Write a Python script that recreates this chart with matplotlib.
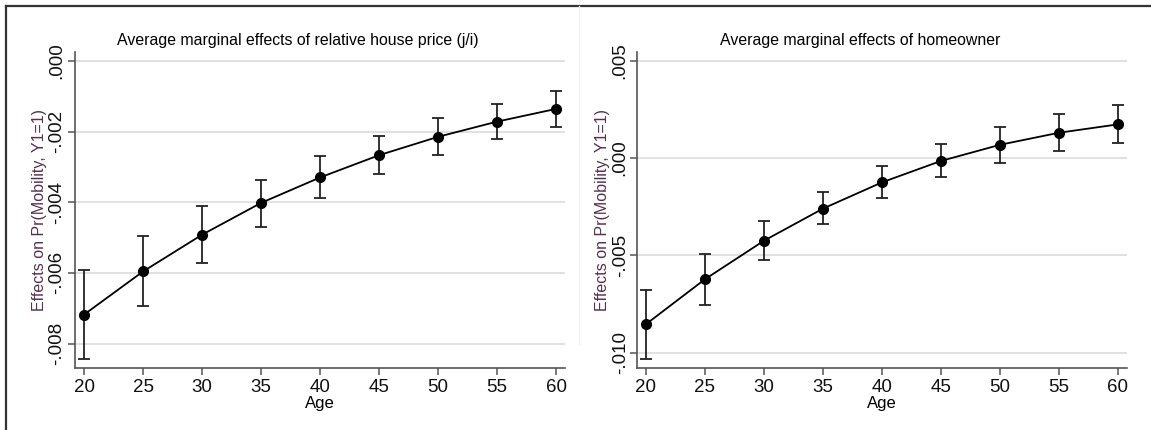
import numpy as np
import matplotlib.pyplot as plt
from matplotlib.lines import Line2D

plt.rcParams['font.family'] = ['Liberation Sans', 'DejaVu Sans']

ages = [20, 25, 30, 35, 40, 45, 50, 55, 60]

# relative house price (j/i)
price_est = [-0.00718, -0.00596, -0.00492, -0.00402, -0.00330, -0.00267, -0.00215, -0.00172, -0.00136]
price_hi = [-0.00591, -0.00496, -0.00412, -0.00336, -0.00270, -0.00213, -0.00163, -0.00121, -0.00084]
price_lo = [-0.00844, -0.00694, -0.00571, -0.00470, -0.00388, -0.00319, -0.00266, -0.00221, -0.00186]

# homeowner
home_est = [-0.00854, -0.00623, -0.00425, -0.00260, -0.00125, -0.00015, 0.00068, 0.00130, 0.00173]
home_hi = [-0.00678, -0.00491, -0.00325, -0.00176, -0.00043, 0.00070, 0.00161, 0.00226, 0.00271]
home_lo = [-0.01034, -0.00753, -0.00524, -0.00341, -0.00204, -0.00099, -0.00024, 0.00036, 0.00079]

titles = ['Average marginal effects of relative house price (j/i)',
          'Average marginal effects of homeowner']
ylab = 'Effects on Pr(Mobility, Y1=1)'

left_ticks = [0.0, -0.002, -0.004, -0.006, -0.008]
left_labels = ['.000', '-.002', '-.004', '-.006', '-.008']
right_ticks = [0.005, 0.0, -0.005, -0.010]
right_labels = ['.005', '.000', '-.005', '-.010']

fig = plt.figure(figsize=(11.51, 4.30), dpi=100)
ax1 = fig.add_axes([0.0652, 0.1442, 0.4257, 0.7349])
ax2 = fig.add_axes([0.5534, 0.1442, 0.4257, 0.7349])

panels = [
    (ax1, price_est, price_lo, price_hi, left_ticks, left_labels, (-0.00869, 0.00025), 1, 2),
    (ax2, home_est, home_lo, home_hi, right_ticks, right_labels, (-0.01079, 0.00545), 1, 1),
]

for i, (ax, est, lo, hi, tks, tls, ylim, lp, tp) in enumerate(panels):
    est = np.array(est)
    yerr = [est - np.array(lo), np.array(hi) - est]
    ax.errorbar(ages, est, yerr=yerr, fmt='o-', color='black', ms=7, lw=1.3,
                elinewidth=1.3, capsize=4, capthick=1.3, ecolor='#222222', zorder=3)
    ax.set_xlim(19.24, 60.76)
    ax.set_ylim(*ylim)
    ax.set_xticks(ages)
    ax.set_yticks(tks)
    ax.set_yticklabels(tls, rotation=90, va='center')
    for t in tks:
        ax.axhline(t, color='#dcdcdc', lw=1.2, zorder=1)
    for s in ['top', 'right']:
        ax.spines[s].set_visible(False)
    for s in ['left', 'bottom']:
        ax.spines[s].set_color('#555555')
        ax.spines[s].set_linewidth(1.2)
    ax.tick_params(direction='out', length=5, width=1.1, color='#555555',
                   labelsize=13.5, labelcolor='#111111', pad=3)
    ax.tick_params(axis='y', pad=tp)
    ax.set_xlabel('Age', fontsize=12, labelpad=0)
    ax.set_ylabel(ylab, fontsize=11.5, color='#55304f', labelpad=lp)
    ax.text(0.455, 1.035, titles[i], transform=ax.transAxes, ha='center',
            va='center', fontsize=11.4)

# outer frame lines
fig.add_artist(Line2D([6 / 1151, 6 / 1151], [0, 1 - 6 / 430], color='#333333', lw=1.6))
fig.add_artist(Line2D([6 / 1151, 1], [1 - 6 / 430, 1 - 6 / 430], color='#333333', lw=1.6))
fig.add_artist(Line2D([579 / 1151, 579 / 1151], [0.2, 1 - 6 / 430], color='#f2f2f2', lw=1))

plt.savefig('out.png', dpi=100)
